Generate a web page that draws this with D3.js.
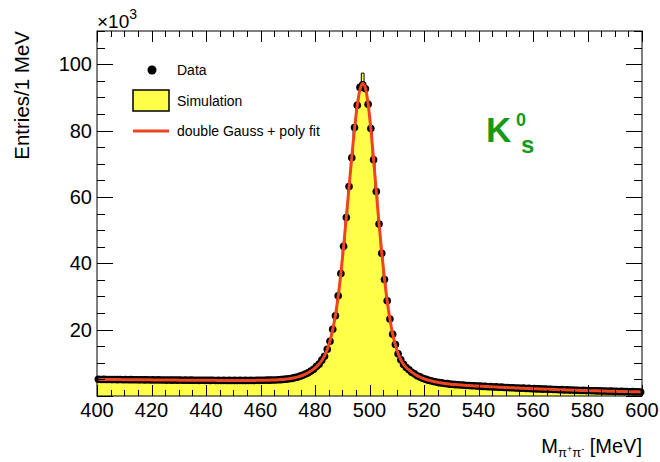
<!DOCTYPE html>
<html>
<head>
<meta charset="utf-8">
<script src="https://cdn.jsdelivr.net/npm/d3@7"></script>
<style>
  html, body { margin: 0; padding: 0; background: #fff; }
  svg { display: block; font-family: "Liberation Sans", Arial, Helvetica, sans-serif; }
</style>
</head>
<body>
<svg id="chart" width="660" height="462"></svg>
<script>
// ---- data (bins of 1 MeV from 400 to 600 MeV, values in units of 10^3 entries) ----
const massLow = 400;
const binWidth = 1;

const dataValues = [
  5.03,4.97,5.01,4.96,4.99,4.94,4.97,4.93,4.96,4.91,
  4.94,4.90,4.93,4.88,4.91,4.87,4.90,4.85,4.88,4.84,
  4.87,4.82,4.86,4.81,4.84,4.79,4.83,4.78,4.81,4.77,
  4.80,4.75,4.79,4.74,4.77,4.73,4.76,4.72,4.75,4.71,
  4.74,4.70,4.73,4.69,4.72,4.68,4.71,4.68,4.70,4.67,
  4.70,4.67,4.71,4.68,4.70,4.67,4.72,4.69,4.73,4.71,
  4.75,4.74,4.79,4.78,4.84,4.84,4.91,4.93,5.02,5.08,
  5.22,5.31,5.53,5.68,5.98,6.22,6.64,6.97,7.55,8.06,
  8.86,9.60,10.8,12.0,14.1,16.5,20.1,24.2,30.2,36.9,
  45.1,53.8,63.1,71.8,80.9,87.6,93.0,93.8,92.6,87.9,
  80.6,71.2,61.6,51.8,43.0,35.1,28.7,23.2,18.6,15.5,
  12.7,10.9,9.52,8.57,7.88,7.17,6.68,6.12,5.75,5.33,
  5.08,4.78,4.61,4.36,4.23,4.03,3.95,3.78,3.72,3.57,
  3.53,3.42,3.41,3.30,3.29,3.18,3.18,3.08,3.08,2.98,
  2.98,2.89,2.90,2.81,2.82,2.73,2.74,2.65,2.66,2.57,
  2.58,2.49,2.50,2.42,2.43,2.34,2.36,2.27,2.29,2.20,
  2.22,2.14,2.15,2.07,2.09,2.01,2.03,1.95,1.97,1.89,
  1.91,1.83,1.85,1.78,1.80,1.72,1.75,1.67,1.70,1.62,
  1.65,1.57,1.60,1.53,1.55,1.48,1.51,1.44,1.47,1.40,
  1.43,1.36,1.39,1.32,1.35,1.28,1.31,1.24,1.28,1.21
];

const simValues = [
  4.62,4.60,4.61,4.58,4.59,4.57,4.58,4.55,4.56,4.54,
  4.55,4.53,4.54,4.51,4.52,4.50,4.51,4.49,4.50,4.47,
  4.48,4.46,4.47,4.45,4.46,4.43,4.44,4.42,4.43,4.41,
  4.42,4.40,4.41,4.39,4.40,4.38,4.39,4.37,4.38,4.36,
  4.37,4.35,4.36,4.34,4.35,4.34,4.35,4.33,4.34,4.33,
  4.34,4.33,4.35,4.34,4.36,4.35,4.37,4.37,4.39,4.40,
  4.42,4.44,4.47,4.49,4.53,4.56,4.61,4.66,4.73,4.81,
  4.93,5.05,5.22,5.42,5.66,5.96,6.32,6.73,7.24,7.86,
  8.58,9.45,10.5,12.0,13.9,16.6,20.1,24.5,30.4,37.5,
  45.6,54.6,63.7,72.8,81.4,88.6,93.2,97.3,93.3,88.9,
  81.2,71.8,61.8,52.1,43.1,35.0,28.2,22.6,18.2,14.9,
  12.3,10.4,9.05,8.10,7.38,6.74,6.20,5.72,5.30,4.94,
  4.65,4.41,4.20,4.01,3.84,3.70,3.57,3.46,3.36,3.27,
  3.19,3.13,3.08,3.02,2.97,2.92,2.87,2.82,2.78,2.73,
  2.69,2.65,2.61,2.58,2.54,2.50,2.47,2.43,2.40,2.36,
  2.33,2.29,2.26,2.23,2.19,2.16,2.13,2.10,2.07,2.04,
  2.01,1.98,1.95,1.92,1.90,1.87,1.84,1.81,1.79,1.76,
  1.73,1.71,1.68,1.66,1.63,1.61,1.59,1.56,1.54,1.52,
  1.50,1.48,1.46,1.44,1.41,1.39,1.37,1.36,1.34,1.32,
  1.30,1.28,1.26,1.25,1.23,1.21,1.19,1.18,1.16,1.14
];

const fitValues = [
  5.00,4.99,4.98,4.98,4.97,4.96,4.95,4.95,4.94,4.93,
  4.92,4.92,4.91,4.90,4.89,4.89,4.88,4.87,4.86,4.86,
  4.85,4.84,4.84,4.83,4.82,4.81,4.81,4.80,4.79,4.79,
  4.78,4.77,4.77,4.76,4.75,4.75,4.74,4.74,4.73,4.73,
  4.72,4.72,4.71,4.71,4.70,4.70,4.70,4.69,4.69,4.69,
  4.69,4.69,4.69,4.69,4.69,4.69,4.70,4.70,4.71,4.72,
  4.73,4.75,4.77,4.79,4.82,4.85,4.89,4.94,5.00,5.09,
  5.20,5.33,5.50,5.70,5.95,6.25,6.60,7.00,7.50,8.10,
  8.80,9.65,10.7,12.1,14.0,16.6,20.0,24.3,30.0,37.0,
  45.0,54.0,63.0,72.0,80.5,87.5,92.3,94.2,92.8,88.0,
  80.5,71.3,61.5,52.0,43.2,35.3,28.6,23.1,18.7,15.4,
  12.8,10.9,9.5,8.6,7.85,7.2,6.65,6.15,5.72,5.35,
  5.05,4.80,4.58,4.38,4.20,4.05,3.92,3.80,3.69,3.59,
  3.50,3.44,3.38,3.32,3.26,3.20,3.15,3.10,3.05,3.00,
  2.95,2.91,2.87,2.83,2.79,2.75,2.71,2.67,2.63,2.59,
  2.55,2.51,2.47,2.44,2.40,2.36,2.33,2.29,2.26,2.22,
  2.19,2.16,2.12,2.09,2.06,2.03,2.00,1.97,1.94,1.91,
  1.88,1.85,1.82,1.80,1.77,1.74,1.72,1.69,1.67,1.64,
  1.62,1.59,1.57,1.55,1.52,1.50,1.48,1.46,1.44,1.42,
  1.40,1.38,1.36,1.34,1.32,1.30,1.28,1.26,1.25,1.23
];

const xTickLabels = [400, 420, 440, 460, 480, 500, 520, 540, 560, 580, 600];
const yTickLabels = [20, 40, 60, 80, 100];
const legendLabels = ["Data", "Simulation", "double Gauss + poly fit"];

// ---- drawing ----
const svg = d3.select("#chart");
const L = 97, R = 642, T = 31, B = 396;
const x = d3.scaleLinear().domain([400, 600]).range([L, R]);
const y = d3.scaleLinear().domain([0, 110]).range([B, T]);

const yellow = "#ffff4a";
const red = "#ee4422";

// simulation histogram (step)
const simPts = simValues.map((v, i) => ({ m: massLow + i * binWidth, v }));
simPts.push({ m: massLow + simValues.length * binWidth, v: simValues[simValues.length - 1] });
svg.append("path")
  .attr("d", d3.area().curve(d3.curveStepAfter)
    .x(d => x(d.m)).y0(y(0)).y1(d => y(d.v))(simPts))
  .attr("fill", yellow);
svg.append("path")
  .attr("d", d3.line().curve(d3.curveStepAfter)
    .x(d => x(d.m)).y(d => y(d.v))(simPts))
  .attr("fill", "none").attr("stroke", "#000").attr("stroke-width", 1);

// data points
svg.append("g").selectAll("circle")
  .data(dataValues)
  .join("circle")
  .attr("cx", (v, i) => x(massLow + (i + 0.5) * binWidth))
  .attr("cy", v => y(v))
  .attr("r", 3.8)
  .attr("fill", "#000");

// fit
svg.append("path")
  .attr("d", d3.line().curve(d3.curveMonotoneX)
    .x((v, i) => x(massLow + (i + 0.5) * binWidth)).y(v => y(v))(fitValues))
  .attr("fill", "none").attr("stroke", red).attr("stroke-width", 3);

// frame
svg.append("rect").attr("x", L).attr("y", T).attr("width", R - L).attr("height", B - T)
  .attr("fill", "none").attr("stroke", "#000").attr("stroke-width", 1);

// x axis ticks (bottom and top)
const xMinor = d3.range(400, 600.01, 5);
const gx = svg.append("g").attr("stroke", "#000").attr("stroke-width", 1);
xMinor.forEach(m => {
  const major = m % 20 === 0;
  const len = major ? 11 : 6;
  const px = Math.round(x(m)) + 0.5;
  gx.append("line").attr("x1", px).attr("x2", px).attr("y1", B).attr("y2", B - len);
  gx.append("line").attr("x1", px).attr("x2", px).attr("y1", T).attr("y2", T + len);
});
svg.append("g").selectAll("text").data(xTickLabels).join("text")
  .attr("x", d => x(d)).attr("y", 417)
  .attr("text-anchor", "middle").attr("font-size", 20).attr("fill", "#000")
  .text(d => d);

// y axis ticks (left and right)
const yMinor = d3.range(0, 110.01, 5);
const gy = svg.append("g").attr("stroke", "#000").attr("stroke-width", 1);
yMinor.forEach(v => {
  const major = v % 20 === 0;
  const len = major ? 16 : 8;
  const py = Math.round(y(v)) + 0.5;
  gy.append("line").attr("x1", L).attr("x2", L + len).attr("y1", py).attr("y2", py);
  gy.append("line").attr("x1", R).attr("x2", R - len).attr("y1", py).attr("y2", py);
});
svg.append("g").selectAll("text").data(yTickLabels).join("text")
  .attr("x", 92).attr("y", d => y(d) + 7)
  .attr("text-anchor", "end").attr("font-size", 20).attr("fill", "#000")
  .text(d => d);

// exponent label
const ex = svg.append("text").attr("x", 97).attr("y", 28).attr("font-size", 19).attr("fill", "#000");
ex.append("tspan").text("\u00d710");
ex.append("tspan").attr("font-size", 14).attr("dy", -9).text("3");

// axis titles
svg.append("text")
  .attr("transform", "translate(29,31) rotate(-90)")
  .attr("text-anchor", "end").attr("font-size", 20.5).attr("fill", "#000")
  .text("Entries/1 MeV");

const xt = svg.append("text").attr("x", 642).attr("y", 453)
  .attr("text-anchor", "end").attr("font-size", 20).attr("fill", "#000");
xt.append("tspan").text("M");
xt.append("tspan").attr("font-size", 13).attr("dy", 4).text("\u03c0");
xt.append("tspan").attr("font-size", 9).attr("dy", -5).text("+");
xt.append("tspan").attr("font-size", 13).attr("dy", 5).text("\u03c0");
xt.append("tspan").attr("font-size", 9).attr("dy", -5).text("-");
xt.append("tspan").attr("dy", 1).text(" [MeV]");

// legend
const lg = svg.append("g");
lg.append("circle").attr("cx", 152).attr("cy", 70).attr("r", 4.5).attr("fill", "#000");
lg.append("rect").attr("x", 133).attr("y", 90).attr("width", 36).attr("height", 21)
  .attr("fill", yellow).attr("stroke", "#000").attr("stroke-width", 1.5);
lg.append("line").attr("x1", 133).attr("x2", 169).attr("y1", 131).attr("y2", 131)
  .attr("stroke", red).attr("stroke-width", 3);
lg.selectAll("text").data(legendLabels).join("text")
  .attr("x", 177).attr("y", (d, i) => 75 + i * 30.5)
  .attr("font-size", 14).attr("fill", "#000")
  .text(d => d);

// K0s label
const kg = svg.append("g").attr("font-weight", "bold").attr("fill", "#149a14");
kg.append("text").attr("x", 486).attr("y", 142).attr("font-size", 35).text("K");
kg.append("text").attr("x", 516).attr("y", 126).attr("font-size", 18).text("0");
kg.append("text").attr("x", 521).attr("y", 153).attr("font-size", 24).text("s");
</script>
</body>
</html>
